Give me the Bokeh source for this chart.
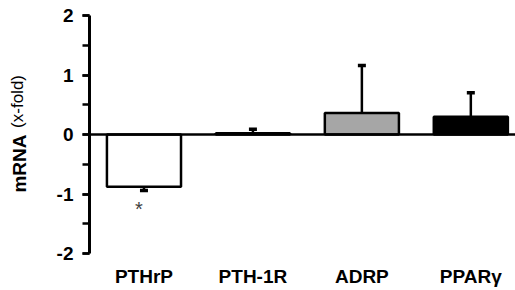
from bokeh.plotting import figure
from bokeh.models import (Range1d, FixedTicker, SingleIntervalTicker, Span, LinearAxis,
                          ColumnDataSource)
from bokeh.core.properties import value
from bokeh.embed import file_html
from bokeh.resources import INLINE

categories = ["PTHrP", "PTH-1R", "ADRP", "PPAR\u03b3"]
means = [-0.88, 0.02, 0.36, 0.30]
errors = [0.06, 0.07, 0.80, 0.40]
bar_colors = ["white", "white", "#a6a6a6", "black"]
y_ticks = [-2, -1, 0, 1, 2]
y_tick_labels = ["-2", "-1", "0", "1", "2"]

FONT = "Liberation Sans"
NB = "\u00a0"

xs = list(range(len(categories)))
err_end = [m + (e if m >= 0 else -e) for m, e in zip(means, errors)]

p = figure(width=515, height=290, output_backend="svg", toolbar_location=None,
           x_range=Range1d(-0.5, 3.41), y_range=Range1d(y_ticks[0], y_ticks[-1]),
           min_border_left=89, min_border_right=0, min_border_top=15,
           min_border_bottom=37)
p.outline_line_color = None
p.grid.visible = False
p.background_fill_color = "white"
p.border_fill_color = "white"

src = ColumnDataSource(dict(x=xs, top=means, color=bar_colors, end=err_end))

# error bars (stem + cap)
p.segment(x0="x", y0="top", x1="x", y1="end", source=src, line_color="black",
          line_width=2.5)
p.scatter(x="x", y="end", source=src, marker="dash", size=8, line_color="black",
          line_width=3.5)

p.vbar(x="x", top="top", bottom=0, width=0.68, source=src, fill_color="color",
       line_color="black", line_width=2.5)

zero = Span(location=0, dimension="width", line_color="black", line_width=2.5)
p.add_layout(zero)

# significance marker
p.text(x=[xs[0]], y=[-1.25], text=["*"], text_font=value(FONT), text_font_size="20px",
       text_color="#404040", text_align="center", text_baseline="middle", x_offset=-5)

# y axis
yax = p.yaxis[0]
yax.ticker = SingleIntervalTicker(interval=1, num_minor_ticks=2)
yax.major_label_overrides = {t: s for t, s in zip(y_ticks, y_tick_labels)}
yax.axis_line_width = 3
yax.axis_line_color = "black"
yax.major_tick_in = 0
yax.major_tick_out = 7
yax.minor_tick_in = 0
yax.minor_tick_out = 7
yax.major_tick_line_width = 2.5
yax.minor_tick_line_width = 2.5
yax.major_tick_line_color = "black"
yax.minor_tick_line_color = "black"
yax.major_label_text_font = FONT
yax.major_label_text_font_style = "bold"
yax.major_label_text_font_size = "19px"
yax.major_label_text_color = "black"
yax.major_label_standoff = 9

# x axis
xax = p.xaxis[0]
xax.ticker = FixedTicker(ticks=xs)
xax.major_label_overrides = {i: c for i, c in zip(xs, categories)}
xax.axis_line_color = None
xax.major_tick_line_color = None
xax.minor_tick_line_color = None
xax.major_tick_out = 0
xax.major_label_text_font = FONT
xax.major_label_text_font_style = "bold"
xax.major_label_text_font_size = "19px"
xax.major_label_text_color = "black"
xax.major_label_standoff = 12


def title_axis(text, size, style, standoff):
    ax = LinearAxis(ticker=FixedTicker(ticks=[]), axis_label=text)
    ax.axis_label_orientation = "vertical"
    ax.axis_line_color = None
    ax.major_tick_line_color = None
    ax.minor_tick_line_color = None
    ax.major_tick_out = 0
    ax.major_tick_in = 0
    ax.major_label_standoff = 0
    ax.axis_label_text_font = FONT
    ax.axis_label_text_font_style = style
    ax.axis_label_text_font_size = size
    ax.axis_label_text_color = "black"
    ax.axis_label_standoff = standoff
    p.add_layout(ax, "left")
    return ax


# y axis title with mixed styles: "mRNA" bold, "(x-fold)" normal (padded to sit in place)
title_axis("mRNA" + NB * 11, "19px", "bold", 24)
title_axis(NB * 14 + "(x-fold)", "17px", "normal", -21)

open("out.html", "w").write(file_html(p, INLINE))
